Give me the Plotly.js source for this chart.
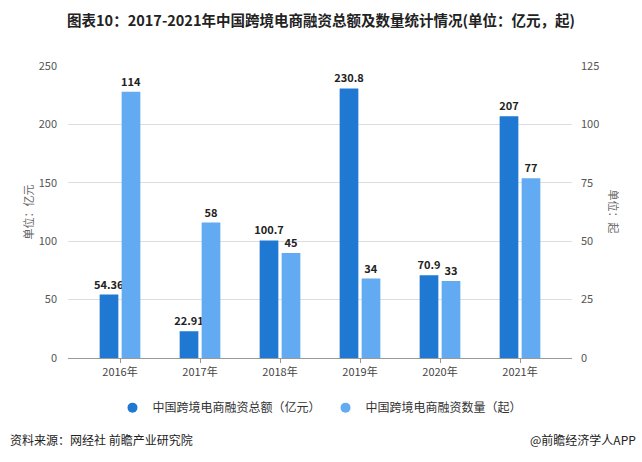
<!DOCTYPE html>
<html><head><meta charset="utf-8">
<script src="https://cdn.plot.ly/plotly-3.0.1.min.js"></script>
<style>body{margin:0;background:#fff}#c{width:642px;height:462px}</style>
</head><body><div id="c"></div>
<script>
const years = ['2016年','2017年','2018年','2019年','2020年','2021年'];
const amount = [54.36, 22.91, 100.7, 230.8, 70.9, 207];
const amountLabels = ['54.36','22.91','100.7','230.8','70.9','207'];
const count = [114, 58, 45, 34, 33, 77];
const name1 = '中国跨境电商融资总额（亿元）';
const name2 = '中国跨境电商融资数量（起）';
const c1 = '#1f78d1', c2 = '#62aaf2';
const font = 'Microsoft YaHei, "Noto Sans CJK SC", sans-serif';
const traces = [
  {type:'bar', x:years, y:amount, text:amountLabels, textposition:'outside', cliponaxis:false, constraintext:'none',
   textfont:{size:11,color:'#222',family:font,weight:'bold'}, marker:{color:c1}, offsetgroup:'a', showlegend:false, hoverinfo:'none'},
  {type:'bar', x:years, y:count, text:count.map(String), textposition:'outside', cliponaxis:false, constraintext:'none', yaxis:'y2',
   textfont:{size:11,color:'#222',family:font,weight:'bold'}, marker:{color:c2}, offsetgroup:'b', showlegend:false, hoverinfo:'none'},
  {type:'scatter', mode:'markers', x:[null], y:[null], name:name1, marker:{symbol:'circle',size:10,color:c1}},
  {type:'scatter', mode:'markers', x:[null], y:[null], name:name2, marker:{symbol:'circle',size:10,color:c2}}
];
const layout = {
  width:642, height:462, paper_bgcolor:'#fff', plot_bgcolor:'#fff',
  margin:{l:68, r:70, t:66, b:104},
  font:{family:font, size:11, color:'#555'},
  title:{text:'<b>图表10：2017-2021年中国跨境电商融资总额及数量统计情况(单位：亿元，起)</b>', x:0.5, xanchor:'center', y:0.955, yanchor:'middle', font:{size:14.5,color:'#222',family:font}},
  barmode:'group', bargap:0.45, bargroupgap:0.15,
  xaxis:{range:[-0.65,5.65], showgrid:false, showline:true, linecolor:'#999', ticks:'outside', ticklen:4, tickcolor:'#999', tickfont:{size:11,color:'#444'}, fixedrange:true},
  yaxis:{range:[0,250], dtick:50, showgrid:true, gridcolor:'#ddd', zeroline:false, tickfont:{size:11,color:'#555'}, ticks:'', ticklabelstandoff:10},
  yaxis2:{range:[0,125], dtick:25, overlaying:'y', side:'right', showgrid:false, zeroline:false, tickfont:{size:11,color:'#555'}, ticklabelstandoff:8},
  legend:{orientation:'h', x:0.5, xanchor:'center', y:-0.17, yanchor:'middle', font:{size:12,color:'#333'}, itemwidth:30, traceorder:'normal'},
  annotations:[
    {text:'单位：亿元', xref:'paper', yref:'paper', x:-0.1, y:0.5, showarrow:false, textangle:-90, font:{size:11,color:'#666'}},
    {text:'单位：起', xref:'paper', yref:'paper', x:1.104, y:0.5, showarrow:false, textangle:90, font:{size:11,color:'#666'}},
    {text:'资料来源：网经社 前瞻产业研究院', xref:'paper', yref:'paper', x:-0.119, xanchor:'left', y:-0.28, yanchor:'middle', showarrow:false, font:{size:12,color:'#222'}},
    {text:'@前瞻经济学人APP', xref:'paper', yref:'paper', x:1.13, xanchor:'right', y:-0.28, yanchor:'middle', showarrow:false, font:{size:12,color:'#222'}}
  ]
};
Plotly.newPlot('c', traces, layout, {displayModeBar:false, staticPlot:true});
</script></body></html>
